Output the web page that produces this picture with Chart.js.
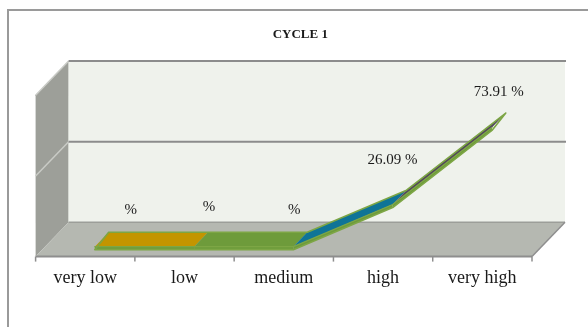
<!DOCTYPE html>
<html>
<head>
<meta charset="utf-8">
<script src="https://cdn.jsdelivr.net/npm/chart.js@4.4.1/dist/chart.umd.min.js"></script>
<style>
  html, body { margin: 0; padding: 0; background: #ffffff; }
  #wrap { width: 588px; height: 327px; position: relative; }
</style>
</head>
<body>
<div id="wrap"><canvas id="chart" width="588" height="327"></canvas></div>
<script>
// Survey result, cycle 1
const chartTitle = 'CYCLE 1';
const categories = ['very low', 'low', 'medium', 'high', 'very high'];
const percentages = [0, 0, 0, 26.09, 73.91];
const valueTicks = [0, 50, 100];

// 3-D look: depth vector of the box and the ribbon's band inside that depth
const DEPTH = { x: -33, y: 34.3 };
const BAND = [0.29, 0.71];
const THICK = 3;
const segmentColors = ['#c39500', '#6e9b3b', '#0f7497', '#52465c'];
const sideColor = '#6e9b3b';
const edgeColor = '#7da645';
// small nudges for the value labels, per point
const labelNudge = [[22, -22], [1, -25], [-13, -22], [-14, -30], [-7, -21]];

const SERIF = '"Liberation Serif", "Times New Roman", Times, serif';

// Excel-like '#.## %' format: zero shows only the percent sign
function fmtPct(v) {
  return v === 0 ? '%' : v.toFixed(2) + ' %';
}

function poly(ctx, pts) {
  ctx.beginPath();
  ctx.moveTo(pts[0][0], pts[0][1]);
  for (let i = 1; i < pts.length; i++) ctx.lineTo(pts[i][0], pts[i][1]);
  ctx.closePath();
}
function seg(ctx, x1, y1, x2, y2, color, w) {
  ctx.beginPath();
  ctx.moveTo(x1, y1);
  ctx.lineTo(x2, y2);
  ctx.strokeStyle = color;
  ctx.lineWidth = w;
  ctx.stroke();
}

const box3d = {
  id: 'box3d',
  beforeDatasetsDraw(chart) {
    const ctx = chart.ctx;
    const { left: L, right: R, top: T, bottom: B } = chart.chartArea;
    const ys = chart.scales.y;
    const xs = chart.scales.x;
    ctx.save();

    // outer frame of the chart object
    ctx.strokeStyle = '#9a9a9a';
    ctx.lineWidth = 2;
    ctx.strokeRect(8, 10, 620, 400);

    // left side wall
    ctx.fillStyle = '#9d9f99';
    poly(ctx, [[L, T], [L + DEPTH.x, T + DEPTH.y], [L + DEPTH.x, B + DEPTH.y], [L, B]]);
    ctx.fill();

    // back wall
    ctx.fillStyle = '#eff2ec';
    ctx.fillRect(L, T, R - L, B - T);

    // floor
    ctx.fillStyle = '#b5b8b1';
    poly(ctx, [[L, B], [R, B], [R + DEPTH.x, B + DEPTH.y], [L + DEPTH.x, B + DEPTH.y]]);
    ctx.fill();

    // value grid lines (back wall + side wall)
    ys.ticks.forEach(t => {
      if (t.value <= ys.min) return;
      const y = ys.getPixelForValue(t.value);
      seg(ctx, L + DEPTH.x, y + DEPTH.y, L, y, '#c9cbc6', 1.5);
      seg(ctx, L, y, R + 1, y, '#8c8c8c', 2);
    });

    // floor edges
    seg(ctx, L, B, R, B, '#9c9e99', 1.5);
    seg(ctx, L + DEPTH.x, B + DEPTH.y, R + DEPTH.x, B + DEPTH.y, '#8e8e8e', 2);
    seg(ctx, R, B, R + DEPTH.x, B + DEPTH.y, '#8e8e8e', 1.5);

    // category tick marks on the front edge
    for (let k = 0; k <= categories.length; k++) {
      const x = xs.getPixelForValue(k - 0.5) + DEPTH.x;
      seg(ctx, x, B + DEPTH.y, x, B + DEPTH.y + 5, '#8e8e8e', 1.5);
    }
    ctx.restore();
  },
  afterDatasetsDraw(chart) {
    const ctx = chart.ctx;
    const { left: L, right: R, bottom: B } = chart.chartArea;
    const xs = chart.scales.x;
    const ys = chart.scales.y;
    const data = chart.data.datasets[0].data;
    ctx.save();

    const back = [], front = [];
    data.forEach((v, i) => {
      const px = xs.getPixelForValue(i);
      const py = ys.getPixelForValue(v);
      back.push([px + BAND[0] * DEPTH.x, py + BAND[0] * DEPTH.y]);
      front.push([px + BAND[1] * DEPTH.x, py + BAND[1] * DEPTH.y]);
    });

    // side (front) faces of the ribbon
    for (let s = 0; s < data.length - 1; s++) {
      const a = front[s], b = front[s + 1];
      ctx.fillStyle = sideColor;
      poly(ctx, [a, b, [b[0], b[1] + THICK], [a[0], a[1] + THICK]]);
      ctx.fill();
    }
    // top faces of the ribbon
    for (let s = 0; s < data.length - 1; s++) {
      ctx.fillStyle = segmentColors[s];
      poly(ctx, [back[s], back[s + 1], front[s + 1], front[s]]);
      ctx.fill();
    }
    // ribbon outline
    ctx.lineJoin = 'round';
    ctx.lineCap = 'round';
    ctx.strokeStyle = edgeColor;
    ctx.lineWidth = 1.6;
    const outline = back.concat(front.slice().reverse().map(p => [p[0], p[1] + THICK]));
    poly(ctx, outline);
    ctx.stroke();
    ctx.beginPath();
    front.forEach((p, i) => i ? ctx.lineTo(p[0], p[1]) : ctx.moveTo(p[0], p[1]));
    ctx.lineWidth = 1.2;
    ctx.stroke();

    // value labels
    ctx.fillStyle = '#1a1a1a';
    ctx.font = '15px ' + SERIF;
    ctx.textAlign = 'center';
    ctx.textBaseline = 'middle';
    data.forEach((v, i) => {
      const n = labelNudge[i];
      ctx.fillText(fmtPct(v), back[i][0] + n[0], back[i][1] + n[1]);
    });

    // category labels under the front edge
    ctx.font = '18px ' + SERIF;
    chart.data.labels.forEach((lab, i) => {
      ctx.fillText(lab, xs.getPixelForValue(i) + DEPTH.x, B + DEPTH.y + 22);
    });

    // title
    ctx.font = 'bold 13px ' + SERIF;
    ctx.fillText(chartTitle, (L + R + DEPTH.x) / 2, 35);
    ctx.restore();
  }
};

new Chart(document.getElementById('chart'), {
  type: 'line',
  data: {
    labels: categories,
    datasets: [{
      data: percentages,
      showLine: false,
      pointRadius: 0,
      pointHoverRadius: 0
    }]
  },
  options: {
    responsive: false,
    animation: false,
    devicePixelRatio: 1,
    layout: { padding: { left: 68.6, right: 23, top: 61, bottom: 104.7 } },
    plugins: { legend: { display: false }, tooltip: { enabled: false }, title: { display: false } },
    scales: {
      x: { type: 'category', offset: true, display: false },
      y: {
        display: false,
        min: valueTicks[0],
        max: valueTicks[valueTicks.length - 1],
        ticks: { stepSize: valueTicks[1] - valueTicks[0] }
      }
    }
  },
  plugins: [box3d]
});
</script>
</body>
</html>
